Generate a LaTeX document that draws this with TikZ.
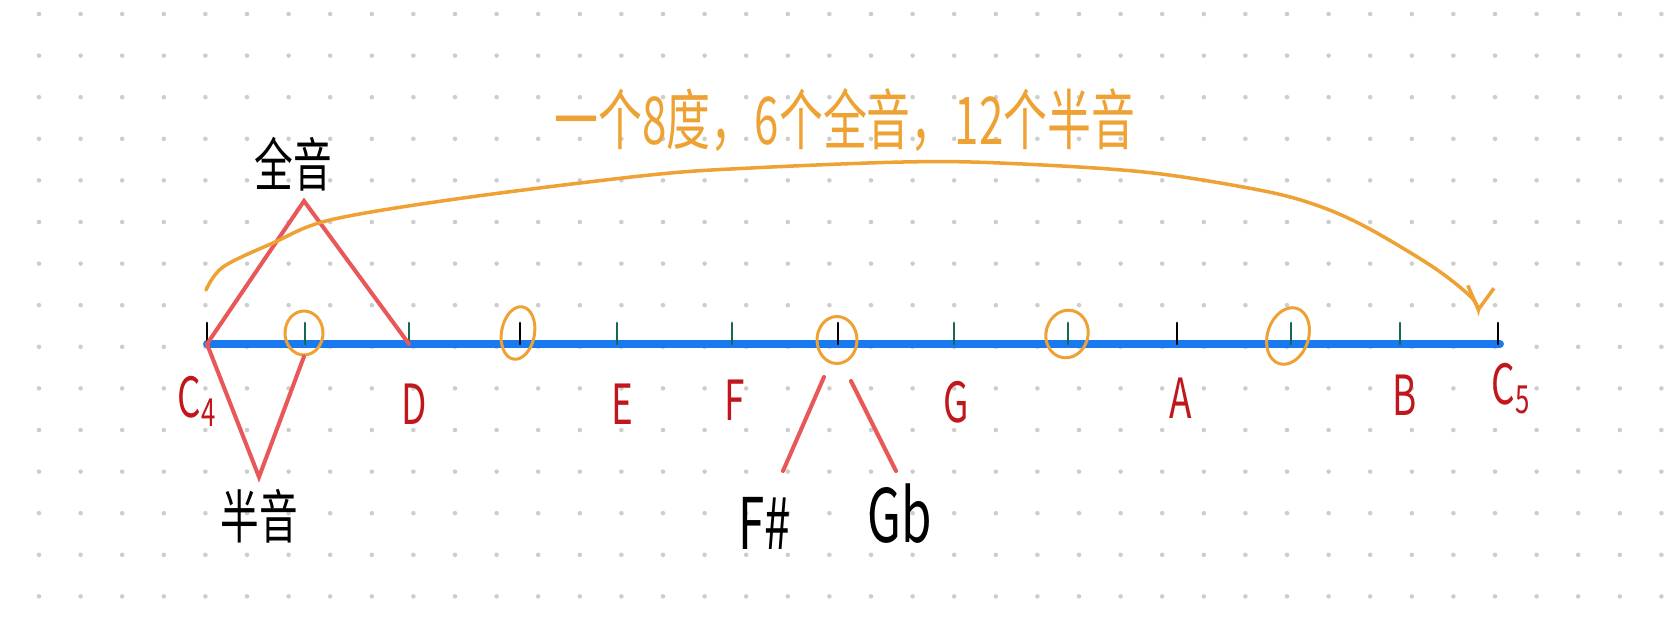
\documentclass[tikz,border=0pt]{standalone}
\usepackage{fontspec}
\usepackage{graphicx}
\usetikzlibrary{arrows.meta, shapes.geometric}
\newfontfamily\cjk{Noto Sans CJK SC}
\definecolor{keyblue}{RGB}{24,122,238}
\definecolor{markred}{RGB}{232,88,88}
\definecolor{noteorange}{RGB}{238,162,52}
\definecolor{notered}{RGB}{192,22,28}
\definecolor{tickgreen}{RGB}{22,104,80}
\definecolor{dotgray}{RGB}{205,205,205}
\newcommand{\handw}[1]{\scalebox{1}[1.5]{#1}}

\begin{document}
\begin{tikzpicture}[x=0.02cm, y=-0.02cm,
    keyline/.style={line width=4.5pt, draw=keyblue, line cap=round},
    tick/.style={line width=1.6pt, line cap=round},
    ring/.style={ellipse, draw=noteorange, line width=1.7pt, inner sep=0pt},
    marker/.style={line width=2.3pt, draw=markred, line cap=round, line join=miter},
    notename/.style={text=notered, inner sep=0pt, font=\cjk\fontsize{21}{21}\selectfont},
    hint/.style={text=black, inner sep=0pt, font=\cjk\fontsize{22}{22}\selectfont},
    arc/.style={line width=2pt, draw=noteorange, line cap=round}
]
\useasboundingbox (0,0) rectangle (1668,619);
\fill[white] (0,0) rectangle (1668,619);

% === Punktraster ===
\foreach \i in {0,...,39}
    \foreach \j in {0,...,14}
        \fill[dotgray] (39+41.6*\i, 14+41.6*\j) circle[radius=1.3pt];

% === Tastenlinie ===
\draw[keyline] (207,344) -- (1500,344);
\foreach \i/\x/\c in {0/207/black, 1/305/tickgreen, 2/409/tickgreen, 3/520/black,
        4/617/tickgreen, 5/732/tickgreen, 6/838/black, 7/954/tickgreen,
        8/1068/tickgreen, 9/1177/black, 10/1291/tickgreen, 11/1400/tickgreen, 12/1498/black} {
    \coordinate (t\i) at (\x,344);
    \draw[tick, draw=\c] (t\i) -- ++(0,-21);
}

% === schwarze Tasten ===
\node[ring, minimum width=0.76cm, minimum height=0.88cm] (Cs) at (304,333) {};
\node[ring, minimum width=0.66cm, minimum height=1.06cm, rotate=-10] (Ds) at (518,333) {};
\node[ring, minimum width=0.80cm, minimum height=0.94cm] (Fs) at (837,340) {};
\node[ring, minimum width=0.84cm, minimum height=0.96cm, rotate=-15] (Gs) at (1067,334) {};
\node[ring, minimum width=0.82cm, minimum height=1.16cm, rotate=-18] (As) at (1288,336) {};

% === Notennamen ===
\node[notename] (C4) at (197,401) {\handw{C\textsubscript{4}}};
\node[notename] (D) at (414,404) {\handw{D}};
\node[notename] (E) at (622,404) {\handw{E}};
\node[notename] (F) at (735,400) {\handw{F}};
\node[notename] (G) at (956,402) {\handw{G}};
\node[notename] (A) at (1181,398) {\handw{A}};
\node[notename] (B) at (1405,395) {\handw{B}};
\node[notename] (C5) at (1511,389) {\handw{C\textsubscript{5}}};

% === Ganzton / Halbton ===
\node[hint] (whole) at (293,164) {\handw{全音}};
\node[hint] (half) at (259,516) {\handw{半音}};
\coordinate (wtip) at (304,201);
\coordinate (htip) at (259,477);
\draw[marker] (t0) -- (wtip) -- (t2);
\draw[marker] (t0) -- (htip) -- (Cs.south);

% === enharmonisch ===
\node[hint, font=\cjk\fontsize{27}{27}\selectfont] (fsharp) at (765,523) {\handw{F\#}};
\node[hint, font=\cjk\fontsize{28}{28}\selectfont] (gflat) at (900,514) {\handw{Gb}};
\coordinate (fsA) at (824,377);
\coordinate (fsB) at (783,471);
\coordinate (gbA) at (851,381);
\coordinate (gbB) at (896,471);
\draw[marker] (fsA) -- (fsB);
\draw[marker] (gbA) -- (gbB);

% === Oktavbogen ===
\node[text=noteorange, inner sep=0pt, font=\cjk\fontsize{25}{25}\selectfont] (octave) at (845,120)
    {\handw{一个8度，6个全音，12个半音}};
\coordinate (arcstart) at (206,290);
\coordinate (arcend) at (1478,313);
\draw[arc, -{Straight Barb[length=13pt, width=15pt]}] plot[smooth, tension=0.55] coordinates {
    (arcstart) (223,267) (273,243) (330,220) (463,198) (650,175) (751,168) (903,162)
    (1000,163) (1144,172) (1259,190) (1316,205) (1366,227) (1433,267) (1472,298) (arcend)};

\end{tikzpicture}
\end{document}
